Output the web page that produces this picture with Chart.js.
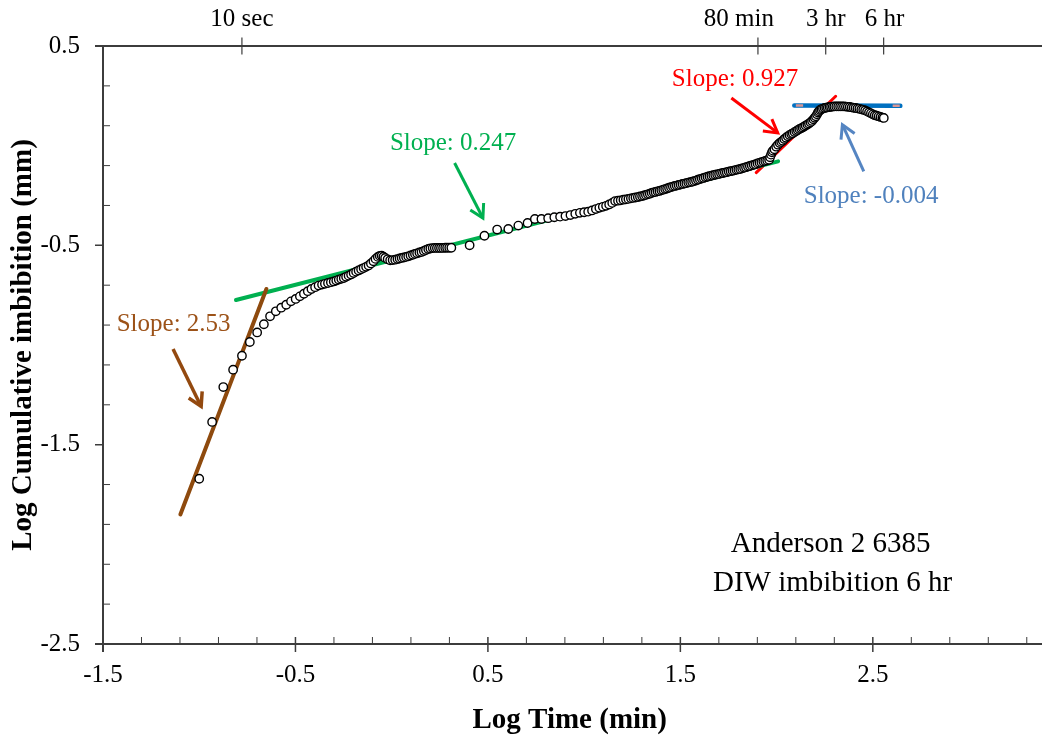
<!DOCTYPE html>
<html>
<head>
<meta charset="utf-8">
<title>Log cumulative imbibition vs log time</title>
<script src="https://cdn.jsdelivr.net/npm/chart.js@4.4.1/dist/chart.umd.min.js"></script>
<style>
  html, body { margin: 0; padding: 0; background: #fff; overflow: hidden; }
  #wrap { position: relative; width: 1042px; height: 742px; }
</style>
</head>
<body>
<div id="wrap"><canvas id="chart" width="1042" height="742"></canvas></div>
<script>
// ---- measured series: log10(time, min) and log10(cumulative imbibition, mm) ----
const logTimeMin = [
  -1.000, -0.933, -0.875, -0.824, -0.778, -0.737, -0.699, -0.664, -0.632, -0.602,
  -0.574, -0.548, -0.523, -0.499, -0.477, -0.456, -0.436, -0.417, -0.398, -0.380,
  -0.362, -0.347, -0.331, -0.316, -0.301,
  -0.288, -0.275, -0.262, -0.249, -0.237, -0.224, -0.211, -0.198, -0.185, -0.172,
  -0.159, -0.146, -0.133, -0.120, -0.108, -0.095, -0.084, -0.072, -0.062, -0.052,
  -0.043, -0.034, -0.021, -0.008, 0.005, 0.018, 0.030, 0.041, 0.052, 0.063,
  0.075, 0.086, 0.098, 0.110, 0.121, 0.132, 0.144, 0.155, 0.167, 0.178,
  0.190, 0.201, 0.213, 0.224, 0.235, 0.246, 0.256, 0.267, 0.278, 0.288,
  0.299, 0.310,
  0.405, 0.482, 0.548, 0.606, 0.658, 0.706, 0.744, 0.778, 0.813, 0.845,
  0.875, 0.903, 0.929, 0.954, 0.978, 1.000, 1.021, 1.041, 1.061, 1.079,
  1.097, 1.114, 1.130, 1.146, 1.161, 1.176, 1.190, 1.204, 1.217, 1.230,
  1.243, 1.255, 1.267, 1.279, 1.290, 1.301,
  1.311, 1.321, 1.331, 1.341, 1.351, 1.361, 1.371, 1.381, 1.391, 1.401,
  1.411, 1.421, 1.431, 1.441, 1.451, 1.461, 1.471, 1.481, 1.491, 1.501,
  1.511, 1.521, 1.531, 1.541, 1.551, 1.561, 1.571, 1.581, 1.591, 1.601,
  1.611, 1.621, 1.631, 1.641, 1.651, 1.661, 1.671, 1.681, 1.691, 1.701,
  1.711, 1.721, 1.731, 1.741, 1.751, 1.761, 1.771, 1.781, 1.791, 1.801,
  1.811, 1.821, 1.831, 1.841, 1.851, 1.861, 1.871, 1.881, 1.891, 1.901,
  1.911, 1.921, 1.931, 1.941, 1.951, 1.961,
  1.966, 1.971, 1.976, 1.981, 1.989, 1.998, 2.007, 2.016, 2.024, 2.032,
  2.040, 2.049, 2.058, 2.067, 2.076, 2.084, 2.093, 2.102, 2.110, 2.118,
  2.127, 2.135, 2.143, 2.151, 2.160, 2.168, 2.176, 2.184, 2.191, 2.198,
  2.204, 2.210, 2.215, 2.220, 2.226, 2.233, 2.241, 2.250, 2.258, 2.266,
  2.275, 2.283, 2.292, 2.300, 2.310, 2.320, 2.330, 2.340, 2.350, 2.360,
  2.370, 2.380, 2.390, 2.400, 2.410, 2.420, 2.430, 2.440, 2.450, 2.460,
  2.470, 2.480, 2.490, 2.500, 2.510, 2.520, 2.530, 2.540, 2.550, 2.557
];
const logImbibitionMm = [
  -1.671, -1.386, -1.211, -1.124, -1.054, -0.985, -0.937, -0.896, -0.856, -0.831,
  -0.813, -0.798, -0.781, -0.769, -0.756, -0.743, -0.730, -0.719, -0.710, -0.702,
  -0.697, -0.693, -0.689, -0.685, -0.681,
  -0.677, -0.672, -0.668, -0.664, -0.658, -0.652, -0.646, -0.639, -0.632, -0.626,
  -0.620, -0.614, -0.608, -0.601, -0.591, -0.580, -0.568, -0.558, -0.553, -0.552,
  -0.557, -0.563, -0.570, -0.575, -0.574, -0.572, -0.569, -0.566, -0.563, -0.561,
  -0.558, -0.555, -0.551, -0.547, -0.543, -0.540, -0.536, -0.533, -0.528, -0.523,
  -0.518, -0.516, -0.514, -0.513, -0.513, -0.513, -0.513, -0.513, -0.512, -0.512,
  -0.512, -0.512,
  -0.500, -0.452, -0.421, -0.418, -0.401, -0.388, -0.368, -0.368, -0.364, -0.359,
  -0.356, -0.353, -0.348, -0.342, -0.337, -0.334, -0.331, -0.325, -0.318, -0.312,
  -0.307, -0.302, -0.295, -0.287, -0.278, -0.276, -0.274, -0.271, -0.269, -0.267,
  -0.264, -0.262, -0.260, -0.258, -0.255, -0.253,
  -0.250, -0.247, -0.244, -0.241, -0.237, -0.234, -0.232, -0.229, -0.227, -0.224,
  -0.221, -0.218, -0.215, -0.211, -0.208, -0.205, -0.202, -0.200, -0.197, -0.195,
  -0.192, -0.190, -0.188, -0.185, -0.183, -0.181, -0.178, -0.175, -0.171, -0.168,
  -0.165, -0.162, -0.159, -0.156, -0.153, -0.151, -0.148, -0.146, -0.144, -0.142,
  -0.139, -0.137, -0.135, -0.133, -0.130, -0.128, -0.126, -0.124, -0.121, -0.119,
  -0.117, -0.114, -0.111, -0.108, -0.105, -0.102, -0.099, -0.096, -0.093, -0.089,
  -0.086, -0.083, -0.080, -0.077, -0.074, -0.071,
  -0.058, -0.045, -0.033, -0.025, -0.018, -0.005, 0.005, 0.013, 0.019, 0.025,
  0.033, 0.040, 0.047, 0.053, 0.058, 0.062, 0.068, 0.073, 0.078, 0.083,
  0.087, 0.091, 0.096, 0.101, 0.106, 0.111, 0.117, 0.124, 0.132, 0.140,
  0.147, 0.157, 0.166, 0.173, 0.179, 0.183, 0.186, 0.189, 0.191, 0.192,
  0.194, 0.195, 0.196, 0.197, 0.197, 0.197, 0.197, 0.197, 0.197, 0.196,
  0.195, 0.194, 0.192, 0.190, 0.189, 0.187, 0.185, 0.182, 0.180, 0.177,
  0.172, 0.167, 0.162, 0.157, 0.153, 0.150, 0.147, 0.144, 0.141, 0.139
];

// ---- straight-line fits (y = slope * x + intercept) over each flow regime ----
const fitSlopes     = [2.53, 0.247, 0.927, -0.004];
const fitIntercepts = [0.928, -0.5746, -1.8907, 0.2102];
const fitStartX     = [-1.098, -0.809, 1.894, 2.092];
const fitEndX       = [-0.651, 2.008, 2.307, 2.643];
const fitLineColors = ['#8E4A0E', '#00B050', '#FF0000', '#0070C0'];
const fitLineWidths = [4, 4, 3, 4.5];
// light end caps on the last fit line
const capRanges     = [[2.100, 2.138], [2.603, 2.640]];

// ---- slope call-outs ----
const labelTextColors = ['#9C5218', '#00B050', '#FF0000', '#4F81BD'];
const arrowColors     = ['#93490F', '#00B050', '#FF0000', '#5585C2'];
const labelAt   = [[-1.133, -0.932], [0.319, -0.024], [1.784, 0.301], [2.491, -0.286]];
const arrowFrom = [[-1.136, -1.020], [0.327, -0.087], [1.765, 0.239], [2.453, -0.129]];
const arrowTo   = [[-0.990, -1.308], [0.474, -0.363], [2.006, 0.064], [2.342, 0.105]];

// ---- sample note ----
const noteLines = ['Anderson 2 6385', 'DIW imbibition 6 hr'];
const noteAt    = [[2.281, -2.036], [2.291, -2.233]];

// ---- axes ----
const X_MIN = -1.5;
const X_PX_PER_UNIT = 193.6;   // horizontal scale; the axis runs off the right edge
const xTickValues = [-1.5, -0.5, 0.5, 1.5, 2.5];
const xTickLabels = ['-1.5', '-0.5', '0.5', '1.5', '2.5'];
const yTickValues = [-2.5, -1.5, -0.5, 0.5];
const yTickLabels = ['-2.5', '-1.5', '-0.5', '0.5'];
const topTickMinutes = [10 / 60, 80, 180, 360];
const topTickLabels  = ['10 sec', '80 min', '3 hr', '6 hr'];
const topLabelNudgePx = [0, -19, 0, 1];   // keeps "80 min" clear of "3 hr"

const SERIF = "'Liberation Serif', 'Times New Roman', Times, serif";
const AXIS_COLOR = '#3c3c3c';

const points = logTimeMin.map((x, i) => ({ x, y: logImbibitionMm[i] }));

const fitDatasets = fitSlopes.map((m, i) => ({
  type: 'line',
  data: [
    { x: fitStartX[i], y: m * fitStartX[i] + fitIntercepts[i] },
    { x: fitEndX[i],   y: m * fitEndX[i]   + fitIntercepts[i] }
  ],
  borderColor: fitLineColors[i],
  borderWidth: fitLineWidths[i],
  borderCapStyle: 'round',
  pointRadius: 0,
  fill: false,
  order: 5
}));

const capData = [];
capRanges.forEach(([a, b], k) => {
  if (k > 0) capData.push({ x: (a + capRanges[k - 1][1]) / 2, y: null });
  capData.push({ x: a, y: fitSlopes[3] * a + fitIntercepts[3] });
  capData.push({ x: b, y: fitSlopes[3] * b + fitIntercepts[3] });
});

// keep a fixed horizontal scale whatever width the layout leaves
const fixXRange = s => { s.min = X_MIN; s.max = X_MIN + s.width / X_PX_PER_UNIT; };

const frame = {
  id: 'frame',
  beforeDatasetsDraw(chart) {
    const { ctx, chartArea: { left, top, bottom }, scales: { x, y } } = chart;
    const right = chart.width;
    ctx.save();
    ctx.strokeStyle = AXIS_COLOR;
    ctx.lineWidth = 2;
    ctx.beginPath();
    ctx.moveTo(left, top); ctx.lineTo(left, bottom + 8);
    ctx.moveTo(left - 8, bottom); ctx.lineTo(right, bottom);
    ctx.moveTo(left - 8, top); ctx.lineTo(right, top);
    ctx.stroke();

    // major ticks
    ctx.lineWidth = 1.5;
    ctx.beginPath();
    yTickValues.forEach(v => {
      const py = y.getPixelForValue(v);
      ctx.moveTo(left - 8, py); ctx.lineTo(left, py);
    });
    xTickValues.forEach(v => {
      const px = x.getPixelForValue(v);
      ctx.moveTo(px, bottom - 7); ctx.lineTo(px, bottom + 8);
    });
    ctx.stroke();

    // minor ticks every 0.2, pointing into the plot
    ctx.lineWidth = 1;
    ctx.beginPath();
    for (let k = 1; k < 15; k++) {
      const v = -2.5 + k * 0.2;
      if (v > 0.45) break;
      if (yTickValues.some(t => Math.abs(t - v) < 1e-6)) continue;
      const py = y.getPixelForValue(v);
      ctx.moveTo(left, py); ctx.lineTo(left + 7, py);
    }
    for (let k = 1; k < 30; k++) {
      const v = -1.5 + k * 0.2;
      if (x.getPixelForValue(v) > right) break;
      if (xTickValues.some(t => Math.abs(t - v) < 1e-6)) continue;
      const px = x.getPixelForValue(v);
      ctx.moveTo(px, bottom); ctx.lineTo(px, bottom - 7);
    }
    ctx.stroke();

    // crossing ticks and labels on the clock-time axis
    ctx.lineWidth = 1.2;
    ctx.beginPath();
    topTickMinutes.forEach(m => {
      const px = x.getPixelForValue(Math.log10(m));
      ctx.moveTo(px, top - 8.5); ctx.lineTo(px, top + 8.5);
    });
    ctx.stroke();
    ctx.font = '25px ' + SERIF;
    ctx.fillStyle = '#000';
    ctx.textAlign = 'center';
    ctx.textBaseline = 'alphabetic';
    topTickMinutes.forEach((m, i) => {
      const px = x.getPixelForValue(Math.log10(m)) + topLabelNudgePx[i];
      ctx.fillText(topTickLabels[i], px, top - 20);
    });
    ctx.restore();
  },
  afterDatasetsDraw(chart) {
    const { ctx, scales: { x, y } } = chart;
    ctx.save();
    // arrows
    fitSlopes.forEach((m, i) => {
      const x1 = x.getPixelForValue(arrowFrom[i][0]), y1 = y.getPixelForValue(arrowFrom[i][1]);
      const x2 = x.getPixelForValue(arrowTo[i][0]),   y2 = y.getPixelForValue(arrowTo[i][1]);
      const ang = Math.atan2(y2 - y1, x2 - x1);
      const head = 15, spread = Math.PI / 6;
      ctx.strokeStyle = arrowColors[i];
      ctx.lineWidth = i === 0 ? 3.5 : 3;
      ctx.lineCap = 'butt';
      ctx.lineJoin = 'miter';
      ctx.beginPath();
      ctx.moveTo(x1, y1); ctx.lineTo(x2, y2);
      ctx.stroke();
      ctx.beginPath();
      ctx.moveTo(x2 - head * Math.cos(ang - spread), y2 - head * Math.sin(ang - spread));
      ctx.lineTo(x2, y2);
      ctx.lineTo(x2 - head * Math.cos(ang + spread), y2 - head * Math.sin(ang + spread));
      ctx.stroke();
    });
    // slope labels
    ctx.font = '25px ' + SERIF;
    ctx.textAlign = 'center';
    ctx.textBaseline = 'alphabetic';
    fitSlopes.forEach((m, i) => {
      ctx.fillStyle = labelTextColors[i];
      ctx.fillText('Slope: ' + m, x.getPixelForValue(labelAt[i][0]), y.getPixelForValue(labelAt[i][1]));
    });
    // note
    ctx.font = '29px ' + SERIF;
    ctx.fillStyle = '#000';
    noteLines.forEach((t, i) => {
      ctx.fillText(t, x.getPixelForValue(noteAt[i][0]), y.getPixelForValue(noteAt[i][1]));
    });
    ctx.restore();
  }
};

new Chart(document.getElementById('chart'), {
  type: 'scatter',
  data: {
    datasets: [
      {
        type: 'scatter',
        label: 'Cumulative imbibition',
        data: points,
        pointRadius: 4.2,
        pointHoverRadius: 4.2,
        pointBackgroundColor: '#ffffff',
        pointBorderColor: '#000000',
        pointBorderWidth: 1.4,
        showLine: false,
        order: 0
      },
      ...fitDatasets,
      {
        type: 'line',
        data: capData,
        borderColor: '#D99694',
        borderWidth: 2.5,
        pointRadius: 0,
        spanGaps: false,
        fill: false,
        order: 4
      }
    ]
  },
  options: {
    responsive: false,
    devicePixelRatio: 1,
    animation: false,
    layout: { padding: 0 },
    plugins: { legend: { display: false }, tooltip: { enabled: false } },
    scales: {
      x: {
        type: 'linear', position: 'bottom', min: X_MIN, max: 3.35,
        afterDataLimits: fixXRange,
        afterBuildTicks: s => { s.ticks = xTickValues.map(v => ({ value: v })); },
        afterFit: s => { s.height = 98; },
        grid: { display: false, drawTicks: false },
        border: { display: false },
        ticks: {
          callback: (v, i) => xTickLabels[i],
          font: { family: SERIF, size: 25 }, color: '#000',
          padding: 16, maxRotation: 0, autoSkip: false
        },
        title: {
          display: true, text: 'Log Time (min)', color: '#000',
          font: { family: SERIF, size: 29, weight: 'bold' },
          padding: { top: 0, bottom: 4 }
        }
      },
      x2: {
        type: 'linear', axis: 'x', position: 'top', min: X_MIN, max: 3.35,
        afterDataLimits: fixXRange,
        afterBuildTicks: s => { s.ticks = topTickMinutes.map(m => ({ value: Math.log10(m) })); },
        afterFit: s => { s.height = 46; },
        grid: { display: false, drawTicks: false },
        border: { display: false },
        ticks: { display: false }
      },
      y: {
        type: 'linear', position: 'left', min: -2.5, max: 0.5,
        afterBuildTicks: s => { s.ticks = yTickValues.map(v => ({ value: v })); },
        afterFit: s => { s.width = 103; },
        grid: { display: false, drawTicks: false },
        border: { display: false },
        ticks: {
          callback: (v, i) => yTickLabels[i],
          font: { family: SERIF, size: 25 }, color: '#000',
          padding: 23, autoSkip: false
        },
        title: {
          display: true, text: 'Log Cumulative imbibition (mm)', color: '#000',
          font: { family: SERIF, size: 29, weight: 'bold' },
          padding: { top: 6, bottom: 0 }
        }
      }
    }
  },
  plugins: [frame]
});
</script>
</body>
</html>
